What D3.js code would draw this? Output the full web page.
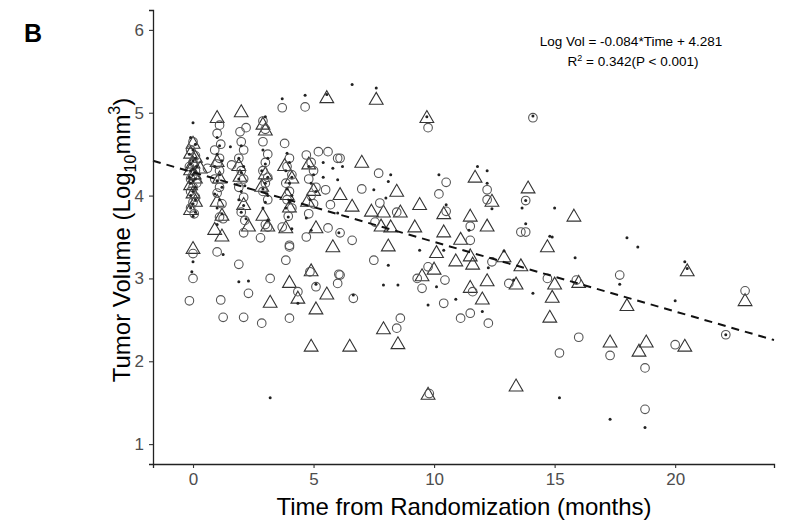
<!DOCTYPE html>
<html>
<head>
<meta charset="utf-8">
<script src="https://cdn.jsdelivr.net/npm/d3@7"></script>
<style>
  body { margin: 0; background: #fff; }
  text { font-family: "Liberation Sans", Arial, sans-serif; }
</style>
</head>
<body>
<div id="chart"></div>
<script>
// [months, log10 volume]
const dots = [
  [0,4.88],[-0.1,4.7],[0.1,4.62],[0,4.55],[-0.15,4.5],[0.1,4.45],[0,4.42],[-0.1,4.38],[0.15,4.35],[0,4.32],
  [-0.1,4.3],[0.1,4.28],[0,4.25],[-0.15,4.22],[0.1,4.2],[0,4.18],[-0.1,4.15],[0.1,4.1],[0,4.05],[-0.1,4.0],
  [0.1,3.95],[0,3.9],[-0.1,3.85],[0.1,3.8],[0,3.75],[0,3.2],[-0.05,3.08],
  [1.0,4.7],[1.1,4.6],[0.6,4.45],[1.0,4.5],[1.2,4.42],[0.9,4.35],[1.1,4.25],[1.0,4.18],[1.2,4.1],[0.9,4.02],
  [1.1,3.95],[1.0,3.85],[1.2,3.78],[1.0,3.65],[1.25,3.29],[1.55,4.59],
  [2.0,4.6],[1.9,4.45],[2.1,4.35],[2.0,4.28],[1.9,4.2],[2.15,4.12],[2.0,4.05],[1.9,3.95],[2.1,3.88],[2.0,3.8],
  [2.2,3.72],[1.9,2.96],[2.3,2.97],
  [3.0,4.95],[2.9,4.55],[3.1,4.45],[3.0,4.38],[2.85,4.3],[3.1,4.22],[3.0,4.15],[2.9,4.08],[3.1,4.0],[3.0,3.92],
  [2.9,3.85],[3.1,3.7],[3.2,1.56],[3.7,5.17],
  [3.9,4.51],[4.0,4.4],[3.85,4.3],[4.1,4.22],[4.0,4.15],[3.9,4.08],[4.1,4.0],[4.0,3.92],[3.85,3.85],[3.95,3.74],
  [4.1,3.6],[4.35,2.7],
  [4.65,5.21],[5.4,4.4],[4.8,4.35],[5.4,4.22],[5.0,4.25],[4.9,4.15],[5.1,4.05],[4.85,3.95],[4.7,3.73],[4.9,3.58],
  [5.1,2.93],[5.55,5.22],[5.8,4.33],[6.2,4.35],[6.0,4.19],[6.0,3.79],[6.05,3.55],[6.6,5.34],[6.65,2.8],
  [7.6,5.3],[7.5,4.07],[8.0,3.97],[8.2,4.25],[8.1,4.17],[8.1,3.16],[7.9,2.92],[8.5,2.92],
  [9.7,4.95],[9.4,3.34],[9.75,2.68],[10.2,4.25],[10.5,3.89],[10.4,3.34],[10.1,2.9],[10.9,2.75],
  [11.8,4.35],[12.2,4.3],[12.2,4.15],[12.4,3.84],[11.45,3.58],[12.9,3.33],[12.25,3.13],[12.0,2.6],
  [13.65,3.85],[13.8,3.66],[13.3,2.98],[14.1,2.82],[14.1,4.96],[13.8,3.94],[15.0,3.85],[14.8,3.51],
  [14.9,3.5],[15.85,3.25],[15.2,1.56],[17.3,1.3],[17.7,2.93],[18.0,3.49],[18.45,3.38],[18.75,1.2],
  [20.4,3.2],[20.5,3.12],[20.0,2.73],[22.1,2.32]
];

const circles = [
  [0,4.65],[-0.1,4.55],[0.1,4.48],[0,4.4],[-0.15,4.35],[0.1,4.3],[0,4.25],[-0.1,4.2],[0.15,4.15],[0,4.1],
  [-0.1,4.05],[0.1,3.98],[0,3.92],[-0.1,3.85],[0.05,3.78],[0,3.3],[0,3.0],[-0.15,2.73],
  [1.1,4.85],[1.0,4.75],[1.15,4.62],[0.9,4.55],[1.1,4.45],[1.0,4.38],[0.6,4.33],[1.6,4.37],[1.1,4.3],[0.9,4.2],
  [1.1,4.1],[1.0,4.03],[1.2,3.9],[1.1,3.74],[1.25,3.72],[1.0,3.32],[1.15,2.74],[1.25,2.53],
  [2.2,4.82],[1.95,4.77],[2.0,4.65],[2.1,4.55],[1.9,4.45],[2.0,4.3],[2.1,4.2],[1.9,4.1],[2.1,3.98],[2.0,3.8],
  [2.15,3.7],[2.1,3.55],[1.9,3.17],[2.3,2.82],[2.1,2.53],
  [2.9,4.9],[3.0,4.8],[2.9,4.65],[3.1,4.5],[3.0,4.4],[2.9,4.3],[3.1,4.22],[3.0,4.15],[2.9,4.05],[3.1,3.95],
  [3.0,3.65],[3.1,3.62],[2.8,3.49],[3.2,3.0],[2.85,2.46],
  [3.7,5.06],[3.8,4.63],[4.0,4.45],[3.9,4.35],[4.1,4.25],[3.85,4.15],[4.0,4.05],[3.9,3.95],[4.1,3.85],[3.95,3.75],
  [3.7,3.62],[4.0,3.4],[4.0,3.38],[3.85,3.22],[4.0,2.52],[4.35,2.84],
  [4.65,5.07],[5.2,4.53],[4.7,4.49],[4.9,4.4],[5.0,4.3],[4.8,4.2],[5.1,4.1],[4.9,4.0],[5.0,3.9],[4.8,3.78],
  [4.7,3.5],[4.85,3.08],[5.1,2.9],
  [5.6,4.53],[6.0,4.45],[6.1,4.45],[5.5,4.07],[5.7,3.89],[5.6,3.61],[6.1,3.55],[6.6,3.46],[6.05,3.05],[6.1,3.04],
  [6.0,2.94],[6.65,2.76],
  [7.7,4.27],[7.0,4.08],[7.75,3.91],[7.55,3.68],[7.5,3.22],[8.45,3.8],[8.6,2.52],[8.45,2.4],
  [9.75,4.82],[10.5,4.16],[10.2,4.02],[10.5,3.81],[9.75,3.14],[10.45,2.98],[9.3,3.0],[9.5,2.88],[10.4,2.7],[9.8,1.61],
  [12.2,4.07],[12.2,3.95],[11.5,3.63],[11.5,3.46],[12.4,3.2],[11.6,2.84],[11.5,2.58],[11.1,2.52],[12.25,2.46],
  [13.8,3.94],[13.6,3.56],[13.8,3.56],[13.1,2.94],[14.1,4.94],
  [14.7,3.0],[15.9,2.98],[16.0,2.29],[15.2,2.1],[17.7,3.04],[17.3,2.07],[18.75,1.92],[18.75,1.42],
  [20.0,2.2],[22.9,2.85],[22.1,2.32]
];

const triangles = [
  [0,4.62],[-0.1,4.5],[0.1,4.45],[0,4.38],[-0.1,4.3],[0.05,4.25],[0.1,4.2],[-0.1,4.12],[0,4.02],[0.1,3.92],
  [-0.1,3.82],[0,3.35],[0.3,4.32],
  [1.0,4.93],[1.0,4.4],[1.1,4.2],[1.0,3.92],[1.2,3.75],[0.9,3.58],[1.2,3.5],
  [2.0,5.0],[1.9,4.35],[1.95,4.22],[2.1,3.88],[2.3,3.62],
  [2.9,4.85],[3.0,4.78],[3.0,4.25],[2.85,4.1],[2.9,3.75],[3.1,3.62],[3.2,2.7],
  [3.8,4.35],[4.1,4.2],[3.9,4.0],[4.0,3.85],[3.85,3.6],[4.0,2.94],[4.35,2.75],
  [4.8,4.37],[5.0,4.05],[4.75,3.92],[5.1,3.6],[4.9,3.08],[5.1,2.62],[4.9,2.17],
  [5.55,5.17],[5.55,2.8],[5.8,3.37],[6.1,4.0],[6.6,3.86],[6.5,2.17],
  [7.0,4.39],[7.6,5.15],[7.4,3.8],[7.9,3.79],[7.8,3.62],[8.2,3.61],[8.1,3.38],[8.45,4.04],[8.6,3.79],
  [7.9,2.38],[8.5,2.2],
  [9.7,4.93],[9.4,3.88],[9.2,3.61],[10.4,3.77],[10.4,3.55],[10.1,3.3],[10.0,3.1],[9.5,3.02],[9.75,1.59],
  [11.7,4.21],[11.5,3.74],[12.4,3.92],[12.2,3.62],[11.1,3.46],[10.9,3.2],[11.5,3.26],[11.6,3.16],[11.5,2.88],
  [12.2,2.96],[12.0,2.74],
  [13.9,4.08],[12.9,3.25],[13.6,3.14],[13.4,2.92],[13.4,1.69],
  [14.7,3.37],[15.0,2.92],[14.9,2.76],[14.8,2.52],[15.8,3.74],[16.0,2.94],
  [18.0,2.66],[17.3,2.22],[18.5,2.11],[18.8,2.22],[20.5,3.08],[20.4,2.17],[22.9,2.72]
];

const xTicks = [0, 5, 10, 15, 20];
const yTicks = [1, 2, 3, 4, 5, 6];
const slope = -0.084, intercept = 4.281;

const width = 808, height = 527;
const svg = d3.select('#chart').append('svg')
  .attr('width', width)
  .attr('height', height);

const x = d3.scaleLinear().domain([-1.66, 24.1]).range([153, 774]);
const y = d3.scaleLinear().domain([0.76, 6.24]).range([464, 10]);

// points
svg.append('g')
  .selectAll('path')
  .data(triangles)
  .enter()
  .append('path')
  .attr('d', d3.symbol().type(d3.symbolTriangle).size(82))
  .attr('transform', d => `translate(${x(d[0])},${y(d[1])})`)
  .attr('fill', 'none')
  .attr('stroke', '#333')
  .attr('stroke-width', 1.1);

svg.append('g')
  .selectAll('circle')
  .data(circles)
  .enter()
  .append('circle')
  .attr('cx', d => x(d[0]))
  .attr('cy', d => y(d[1]))
  .attr('r', 4.3)
  .attr('fill', 'none')
  .attr('stroke', '#555')
  .attr('stroke-width', 1.1);

svg.append('g')
  .selectAll('circle')
  .data(dots)
  .enter()
  .append('circle')
  .attr('cx', d => x(d[0]))
  .attr('cy', d => y(d[1]))
  .attr('r', 1.5)
  .attr('fill', '#222');

// regression line
const xd = x.domain();
svg.append('line')
  .attr('x1', x(xd[0]))
  .attr('y1', y(slope * xd[0] + intercept))
  .attr('x2', x(xd[1]))
  .attr('y2', y(slope * xd[1] + intercept))
  .attr('stroke', '#111')
  .attr('stroke-width', 2)
  .attr('stroke-dasharray', '8,6');

// axes
const xAxis = svg.append('g')
  .attr('transform', 'translate(0,464)')
  .call(d3.axisBottom(x).tickValues(xTicks).tickFormat(d3.format('d')).tickSize(4).tickPadding(5));
const yAxis = svg.append('g')
  .attr('transform', 'translate(153,0)')
  .call(d3.axisLeft(y).tickValues(yTicks).tickFormat(d3.format('d')).tickSize(4).tickPadding(5));

[xAxis, yAxis].forEach(g => {
  g.select('.domain').attr('stroke', '#222').attr('stroke-width', 1.3);
  g.selectAll('.tick line').attr('stroke', '#333').attr('stroke-width', 1.1);
  g.selectAll('.tick text')
    .attr('fill', '#4d4d4d')
    .style('font-size', '17px')
    .style('font-family', '"Liberation Sans", Arial, sans-serif');
});

// titles
svg.append('text')
  .attr('x', 464)
  .attr('y', 515)
  .attr('text-anchor', 'middle')
  .style('font-size', '24px')
  .text('Time from Randomization (months)');

const yt = svg.append('text')
  .attr('transform', 'translate(130,240) rotate(-90)')
  .attr('text-anchor', 'middle')
  .style('font-size', '24px');
yt.append('tspan').text('Tumor Volume (Log');
yt.append('tspan').attr('dy', 6).style('font-size', '16px').text('10');
yt.append('tspan').attr('dy', -6).text('mm');
yt.append('tspan').attr('dy', -10).style('font-size', '16px').text('3');
yt.append('tspan').attr('dy', 10).text(')');

svg.append('text')
  .attr('x', 24)
  .attr('y', 42)
  .style('font-size', '25px')
  .style('font-weight', 'bold')
  .text('B');

// equation
svg.append('text')
  .attr('x', 631)
  .attr('y', 46)
  .attr('text-anchor', 'middle')
  .style('font-size', '13.5px')
  .text('Log Vol = -0.084*Time + 4.281');

const r2 = svg.append('text')
  .attr('x', 633)
  .attr('y', 66)
  .attr('text-anchor', 'middle')
  .style('font-size', '13.5px');
r2.append('tspan').text('R');
r2.append('tspan').attr('dy', -5).style('font-size', '9px').text('2');
r2.append('tspan').attr('dy', 5).text(' = 0.342(P < 0.001)');
</script>
</body>
</html>
